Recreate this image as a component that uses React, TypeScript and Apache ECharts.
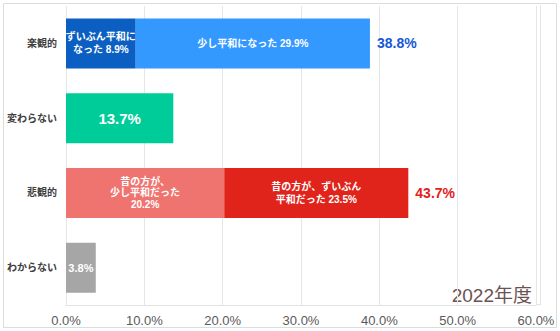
import React, { useEffect, useRef } from "react";
import * as echarts from "echarts";

const categories = ["楽観的", "変わらない", "悲観的", "わからない"];
const muchMorePeaceful = [8.9, null, null, null];
const somewhatMorePeaceful = [29.9, null, null, null];
const noChange = [null, 13.7, null, null];
const somewhatBefore = [null, null, 20.2, null];
const muchBefore = [null, null, 23.5, null];
const unknown = [null, null, null, 3.8];
const totalLabels = [
  { category: "楽観的", value: 38.8, color: "#1558d6" },
  { category: "悲観的", value: 43.7, color: "#e3221a" },
];
const xTicks = [0, 10, 20, 30, 40, 50, 60];
const yearLabel = "2022年度";

const FONT = '"Liberation Sans", Arial, "Noto Sans CJK JP", sans-serif';

function seg(
  name: string,
  data: (number | null)[],
  color: string,
  fmt: (v: string) => string,
  fontSize: number,
  lineHeight: number
) {
  return {
    name,
    type: "bar",
    stack: "total",
    barWidth: 50,
    data: data.map((v) => (v == null ? "-" : v)),
    itemStyle: { color },
    label: {
      show: true,
      position: "inside",
      color: "#ffffff",
      fontWeight: "bold",
      fontSize,
      lineHeight,
      fontFamily: FONT,
      formatter: (p: any) => fmt(Number(p.value).toFixed(1)),
    },
  };
}

export default function App() {
  const ref = useRef<HTMLDivElement>(null);
  useEffect(() => {
    if (!ref.current) return;
    const chart = echarts.init(ref.current, null, { renderer: "svg" });
    chart.setOption({
      animation: false,
      grid: { left: 66, right: 24, top: 6, bottom: 26, containLabel: false },
      xAxis: {
        type: "value",
        min: xTicks[0],
        max: xTicks[xTicks.length - 1],
        interval: 10,
        axisLine: { show: true, lineStyle: { color: "#e2e2e2" } },
        axisTick: { show: false },
        splitLine: { show: true, lineStyle: { color: "#e6e6e6", width: 1 } },
        axisLabel: {
          formatter: (v: number) => v.toFixed(1) + "%",
          fontSize: 13,
          color: "#5a5a5a",
          fontFamily: FONT,
          margin: 9,
        },
      },
      yAxis: {
        type: "category",
        data: categories,
        inverse: true,
        axisLine: { show: false },
        axisTick: { show: false },
        axisLabel: {
          fontSize: 10,
          fontWeight: "bold",
          color: "#404040",
          fontFamily: FONT,
          margin: 9,
        },
      },
      series: [
        seg("ずいぶん平和になった", muchMorePeaceful, "#0c5fc2", (v) => `ずいぶん平和に\nなった ${v}%`, 10, 13),
        seg("少し平和になった", somewhatMorePeaceful, "#3399ff", (v) => `少し平和になった ${v}%`, 10, 13),
        seg("変わらない", noChange, "#00cc99", (v) => `${v}%`, 15, 18),
        seg("昔の方が、少し平和だった", somewhatBefore, "#ef7470", (v) => `昔の方が、\n少し平和だった\n${v}%`, 10, 11.5),
        seg("昔の方が、ずいぶん平和だった", muchBefore, "#e0241b", (v) => `昔の方が、ずいぶん\n平和だった ${v}%`, 10, 13),
        seg("わからない", unknown, "#a6a6a6", (v) => `${v}%`, 11, 13),
        {
          type: "scatter",
          symbolSize: 0,
          itemStyle: { opacity: 1 },
          data: totalLabels.map((t) => ({
            value: [t.value, t.category],
            label: { color: t.color },
          })),
          label: {
            show: true,
            position: "right",
            distance: 7,
            fontSize: 14,
            fontWeight: "bold",
            fontFamily: FONT,
            formatter: (p: any) => Number(p.value[0]).toFixed(1) + "%",
          },
        },
      ],
      graphic: [
        {
          type: "rect",
          shape: { x: 3.5, y: 3.5, width: 553, height: 324 },
          style: { fill: "none", stroke: "#dcdcdc", lineWidth: 1 },
          silent: true,
        },
        {
          type: "line",
          shape: { x1: 540.5, y1: 5, x2: 540.5, y2: 305 },
          style: { stroke: "#e6e6e6", lineWidth: 1 },
          silent: true,
        },
        {
          type: "line",
          shape: { x1: 536, y1: 304.5, x2: 540.5, y2: 304.5 },
          style: { stroke: "#e2e2e2", lineWidth: 1 },
          silent: true,
        },
        {
          type: "text",
          right: 28,
          top: 286,
          style: {
            text: yearLabel,
            fontSize: 19,
            fill: "#6d5252",
            fontFamily: '"Liberation Sans", "Noto Sans CJK JP", sans-serif',
          },
        },
      ],
    });
    return () => chart.dispose();
  }, []);
  return (
    <div
      ref={ref}
      style={{ position: "fixed", left: 0, top: 0, width: 560, height: 331, background: "#fff" }}
    />
  );
}
